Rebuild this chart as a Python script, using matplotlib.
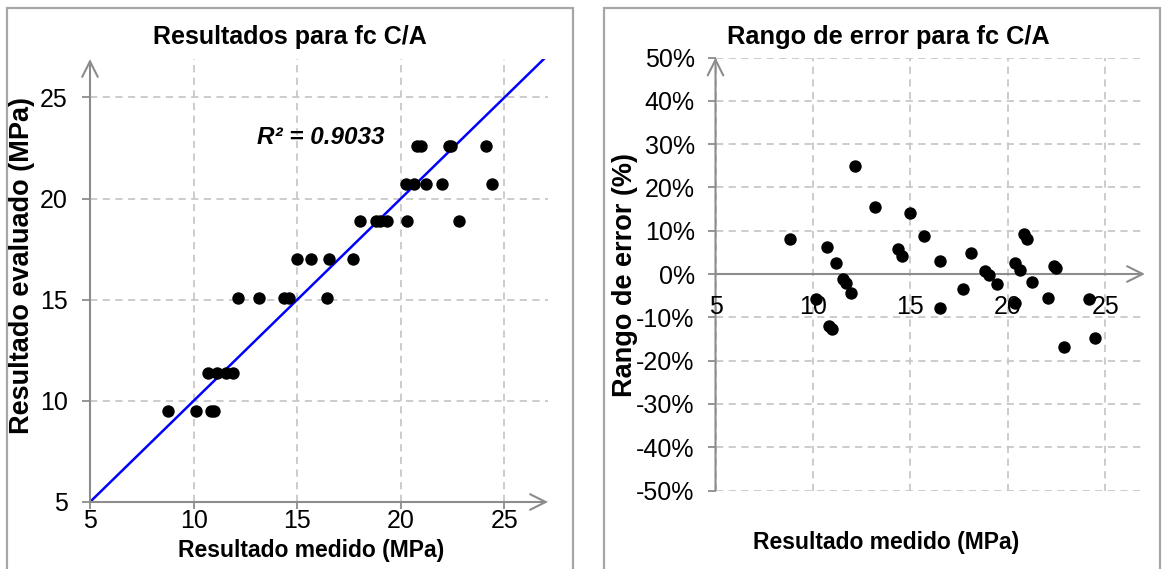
import numpy as np
import matplotlib.pyplot as plt
from matplotlib.patches import Rectangle
from matplotlib.ticker import FuncFormatter

plt.rcParams['font.family'] = ['Liberation Sans', 'DejaVu Sans']

# fc C/A: measured strength vs. evaluated strength (MPa)
medido = [8.78, 10.1, 10.85, 10.96,
          10.71, 11.12, 11.55, 11.92,
          12.16, 13.16, 14.37, 14.61, 16.46,
          14.98, 15.66, 16.55, 17.69,
          18.05, 18.8, 19.0, 19.35, 20.3, 22.8,
          20.27, 20.62, 21.2, 22.0, 24.4,
          20.8, 20.97, 22.3, 22.4, 24.1]
evaluado = [9.5, 9.5, 9.5, 9.5,
            11.4, 11.4, 11.4, 11.4,
            15.1, 15.1, 15.1, 15.1, 15.1,
            17.0, 17.0, 17.0, 17.0,
            18.87, 18.87, 18.87, 18.87, 18.87, 18.87,
            20.74, 20.74, 20.74, 20.74, 20.74,
            22.62, 22.62, 22.62, 22.62, 22.62]
r2_text = 'R² = 0.9033'

# error range (%) against measured strength
medido_err = [8.80, 10.73, 11.16, 11.56, 11.68, 11.97, 10.16, 10.82, 10.99,
              12.14, 13.17, 14.97, 14.37, 14.58, 15.71, 16.54, 16.49,
              18.12, 17.69, 18.8, 19.01, 19.44, 20.35, 20.64, 20.35,
              20.83, 21.0, 21.25, 22.04, 22.35, 22.45, 22.85, 24.17, 24.44]
error_pct = [8.0, 6.3, 2.5, -1.2, -2.0, -4.5, -5.8, -12.0, -12.8,
             24.9, 15.4, 14.0, 5.8, 4.2, 8.8, 3.0, -7.9,
             4.8, -3.5, 0.8, -0.2, -2.3, 2.6, 0.9, -6.8,
             9.2, 8.0, -1.8, -5.5, 1.8, 1.3, -16.8, -5.8, -14.7]

x_ticks = [5, 10, 15, 20, 25]
y_ticks_left = [5, 10, 15, 20, 25]
y_ticks_right = list(range(-50, 51, 10))

W, H = 1165, 569
fig = plt.figure(figsize=(W / 100, H / 100), dpi=100)

def px_axes(l, t, r, b):
    return fig.add_axes([l / W, 1 - b / H, (r - l) / W, (b - t) / H])

# panel frames
for x0, x1 in [(7, 573), (604, 1160)]:
    fig.patches.append(Rectangle((x0 / W, -0.05), (x1 - x0) / W, 1.05 - 8 / H,
                                 transform=fig.transFigure, fill=False,
                                 edgecolor='#a6a6a6', lw=1.6))

axis_col = '#8c8c8c'
grid_kw = dict(color='#c8c8c8', ls=(0, (4, 3)), lw=1.3)
tick_fs = 18

def arrow(ax, start, end):
    ax.annotate('', xy=end, xytext=start, xycoords='axes fraction',
                arrowprops=dict(arrowstyle='->', color=axis_col, lw=1.5,
                                mutation_scale=28, shrinkA=0, shrinkB=0))

# ---- left: evaluated vs measured ----
ax1 = px_axes(90, 59, 548, 502)
ax1.set_xlim(5, 27.1)
ax1.set_ylim(5, 26.9)
ax1.set_xticks(x_ticks)
ax1.set_yticks(y_ticks_left)
ax1.grid(True, **grid_kw)
ax1.set_axisbelow(True)
for s in ax1.spines.values():
    s.set_visible(False)
arrow(ax1, (0, 0), (1, 0))
arrow(ax1, (0, 0), (0, 1))
ax1.tick_params(direction='out', length=6, width=1.3, color=axis_col,
                labelsize=tick_fs, labelcolor='black')
ax1.tick_params(axis='x', length=5, pad=0)
ax1.tick_params(axis='y', pad=10)
ax1.axline((5, 5), slope=1, color='#0000ff', lw=1.8, zorder=2)
ax1.scatter(medido, evaluado, s=80, color='black', zorder=3, linewidths=0)
ax1.text(0.364, 0.822, r2_text, transform=ax1.transAxes, fontsize=17.5,
         fontweight='bold', fontstyle='italic', ha='left', va='center')

fig.text(290 / W, 1 - 37 / H, 'Resultados para fc C/A', fontsize=18,
         fontweight='bold', ha='center', va='center')
fig.text(311 / W, 1 - 550 / H, 'Resultado medido (MPa)', fontsize=16.5,
         fontweight='bold', ha='center', va='center')
fig.text(22 / W, 1 - 265 / H, 'Resultado evaluado (MPa)', fontsize=19.5,
         fontweight='bold', ha='center', va='center', rotation=90)

# ---- right: error range ----
ax2 = px_axes(715.5, 57.5, 1145, 490.5)
ax2.set_xlim(5, 27.03)
ax2.set_ylim(-50, 50)
ax2.set_xticks(x_ticks)
ax2.set_yticks(y_ticks_right)
ax2.yaxis.set_major_formatter(FuncFormatter(lambda v, p: f'{v:.0f}%'))
ax2.grid(True, **grid_kw)
ax2.set_axisbelow(True)
for s in ax2.spines.values():
    s.set_visible(False)
arrow(ax2, (0, 0.5), (1, 0.5))
arrow(ax2, (0, 0), (0, 1))
ax2.tick_params(direction='out', length=6, width=1.3, color=axis_col,
                labelsize=tick_fs, labelcolor='black')
ax2.tick_params(axis='y', pad=9)
ax2.tick_params(axis='x', length=0, pad=0)
# x tick labels sit just under the 0% line
for xv in x_ticks:
    ax2.text(xv, -4.8, str(xv), fontsize=tick_fs, ha='center', va='top')
ax2.set_xticklabels([])
ax2.scatter(medido_err, error_pct, s=80, color='black', zorder=3, linewidths=0)

fig.text(888 / W, 1 - 37 / H, 'Rango de error para fc C/A', fontsize=18.3,
         fontweight='bold', ha='center', va='center')
fig.text(886 / W, 1 - 543 / H, 'Resultado medido (MPa)', fontsize=16.5,
         fontweight='bold', ha='center', va='center')
fig.text(625 / W, 1 - 275 / H, 'Rango de error (%)', fontsize=19.5,
         fontweight='bold', ha='center', va='center', rotation=90)

fig.savefig('out.png', dpi=100)
